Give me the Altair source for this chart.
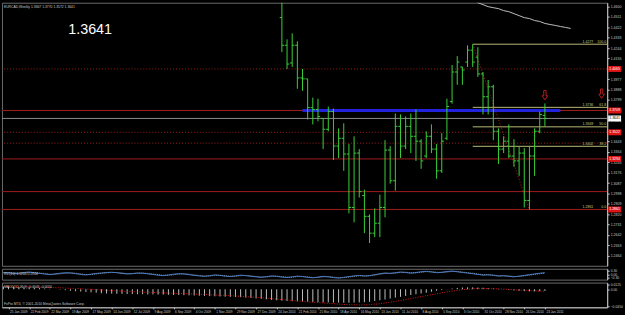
import altair as alt
import pandas as pd

# ---------------- data ----------------
symbol_line = "EURCAD,Weekly  1.3667 1.3770 1.3572 1.3641"
big_price = "1.3641"

opens = [1.4505, 1.4268, 1.4116, 1.4268, 1.3988, 1.3980, 1.3734, 1.3717, 1.3641, 1.3548,
         1.3700, 1.3404, 1.3471, 1.3336, 1.2878, 1.3344, 1.2980, 1.2802, 1.2658, 1.2743,
         1.2878, 1.3370, 1.3107, 1.3573, 1.3404, 1.3573, 1.3488, 1.3446, 1.3319, 1.3488,
         1.3378, 1.3192, 1.3471, 1.3785, 1.4039, 1.4082, 1.4124, 1.4226, 1.4166, 1.4022,
         1.3827, 1.3912, 1.3531, 1.3378, 1.3446, 1.3319, 1.3277, 1.3344, 1.2938, 1.3319,
         1.3531, 1.3667]
highs = [1.4717, 1.4319, 1.4370, 1.4302, 1.4065, 1.3980, 1.3819, 1.3810, 1.3641, 1.3743,
         1.3726, 1.3556, 1.3599, 1.3421, 1.3488, 1.3378, 1.3031, 1.2819, 1.2870, 1.2988,
         1.3455, 1.3404, 1.3683, 1.3675, 1.3658, 1.3683, 1.3717, 1.3463, 1.3531, 1.3590,
         1.3421, 1.3514, 1.3810, 1.4099, 1.4175, 1.4082, 1.4268, 1.4277, 1.4251, 1.4039,
         1.3971, 1.3929, 1.3556, 1.3488, 1.3590, 1.3463, 1.3404, 1.3387, 1.3404, 1.3556,
         1.3700, 1.3770]
lows = [1.4209, 1.4065, 1.4082, 1.3895, 1.3878, 1.3632, 1.3590, 1.3616, 1.3378, 1.3531,
        1.3285, 1.3302, 1.3192, 1.2827, 1.2751, 1.2963, 1.2658, 1.2573, 1.2624, 1.2624,
        1.2794, 1.3082, 1.3022, 1.3302, 1.3378, 1.3344, 1.3277, 1.3209, 1.3302, 1.3344,
        1.3124, 1.3175, 1.3455, 1.3768, 1.3929, 1.3929, 1.4082, 1.4082, 1.3997, 1.3675,
        1.3675, 1.3455, 1.3251, 1.3344, 1.3302, 1.3226, 1.3149, 1.2878, 1.2861, 1.3149,
        1.3514, 1.3572]
closes = [1.4268, 1.4107, 1.4268, 1.3988, 1.3980, 1.3734, 1.3717, 1.3658, 1.3548, 1.3700,
          1.3404, 1.3471, 1.3336, 1.2878, 1.3344, 1.3014, 1.2802, 1.2658, 1.2743, 1.2878,
          1.3370, 1.3107, 1.3573, 1.3404, 1.3573, 1.3488, 1.3446, 1.3277, 1.3488, 1.3378,
          1.3192, 1.3446, 1.3743, 1.4039, 1.4124, 1.4056, 1.4226, 1.4124, 1.4022, 1.3827,
          1.3912, 1.3531, 1.3378, 1.3446, 1.3319, 1.3277, 1.3344, 1.2938, 1.3319, 1.3531,
          1.3675, 1.3641]

# price axis tick labels
price_ticks = [1.4600, 1.4511, 1.4422, 1.4333, 1.4244, 1.4155, 1.4066, 1.3977, 1.3888,
               1.3799, 1.3710, 1.3621, 1.3532, 1.3443, 1.3354, 1.3265, 1.3176, 1.3087,
               1.2998, 1.2909, 1.2820, 1.2731, 1.2642, 1.2553, 1.2464]

# horizontal lines
dotted_levels = [1.4065, 1.3522, 1.3429]
solid_levels = [1.3709, 1.3294, 1.3014, 1.2861]
tag_levels = [1.4065, 1.3709, 1.3522, 1.3294, 1.2861]
bid_price = 1.3641

# blue resistance line
blue_start = "2010-02-28"
blue_end = "2011-02-13"
blue_price = 1.3709

# Fibonacci retracement
fib_start = "2010-10-17"
fib_low_date = "2011-01-02"
fib_high = 1.4277
fib_low = 1.2861
fib_levels = ["100.0", "61.8", "50.0", "38.2", "0.0"]
fib_prices = [1.4277, 1.3736, 1.3569, 1.3402, 1.2861]

# moving average (top right)
ma_dates = ["2010-10-17", "2010-10-24", "2010-10-31", "2010-11-07", "2010-11-14",
            "2010-11-21", "2010-11-28", "2010-12-05", "2010-12-12", "2010-12-19",
            "2010-12-26", "2011-01-02", "2011-01-09", "2011-01-16", "2011-01-23",
            "2011-01-30", "2011-02-06", "2011-02-13", "2011-02-20", "2011-02-27"]
ma_values = [1.4666, 1.4633, 1.4616, 1.4599, 1.4590, 1.4582, 1.4565, 1.4556, 1.4539,
             1.4522, 1.4505, 1.4497, 1.4480, 1.4472, 1.4455, 1.4446, 1.4438, 1.4429,
             1.4421, 1.4412]

# arrows
arrow_dates = ["2011-01-23", "2011-04-10"]
arrow_prices = [1.3840, 1.3853]

# RVI panel
rvi_label = "RVI(10) 0.1200 0.0900"
rvi_main = [0.15, 0.12, 0.05, 0.08, 0.14, 0.18, 0.12, 0.06, 0.02,
            -0.04, 0.02, 0.08, 0.12, 0.10, 0.04, -0.02, -0.06, 0.00, 0.06,
            0.10, 0.14, 0.16, 0.12, 0.06, 0.02, 0.05, 0.10, 0.08, 0.03,
            -0.02, -0.08, -0.12, -0.06, 0.00, 0.04, 0.02, -0.04, -0.10, -0.14,
            -0.18, -0.12, -0.06, -0.10, -0.16, -0.20, -0.14, -0.08, -0.12, -0.18,
            -0.22, -0.26, -0.20, -0.14, -0.18, -0.24, -0.28, -0.22, -0.16, -0.20,
            -0.26, -0.30, -0.24, -0.18, -0.22, -0.28, -0.32, -0.26, -0.20, -0.14,
            -0.10, -0.16, -0.12, -0.04, 0.04, 0.10, 0.06, 0.12, 0.18, 0.14,
            0.08, 0.14, 0.20, 0.24, 0.18, 0.12, 0.16, 0.22, 0.26, 0.20,
            0.14, 0.10, 0.04, -0.02, -0.08, -0.04, -0.10, -0.16, -0.12, -0.18,
            -0.22, -0.16, -0.10, -0.04, 0.02, 0.08, 0.12]
rvi_signal = [0.11, 0.13, 0.10, 0.07, 0.10, 0.14, 0.15, 0.10, 0.05,
              0.00, -0.01, 0.03, 0.08, 0.11, 0.08, 0.02, -0.03, -0.03, 0.02,
              0.07, 0.11, 0.14, 0.14, 0.10, 0.05, 0.04, 0.07, 0.09, 0.06,
              0.01, -0.04, -0.09, -0.09, -0.05, 0.01, 0.03, 0.00, -0.06, -0.11,
              -0.15, -0.15, -0.10, -0.09, -0.13, -0.17, -0.17, -0.12, -0.10, -0.14,
              -0.19, -0.23, -0.23, -0.18, -0.16, -0.20, -0.25, -0.25, -0.20, -0.18,
              -0.22, -0.27, -0.27, -0.22, -0.20, -0.24, -0.29, -0.29, -0.24, -0.18,
              -0.13, -0.13, -0.13, -0.08, 0.00, 0.06, 0.08, 0.09, 0.14, 0.16,
              0.12, 0.11, 0.16, 0.21, 0.21, 0.16, 0.14, 0.18, 0.23, 0.23,
              0.18, 0.12, 0.08, 0.02, -0.04, -0.06, -0.07, -0.12, -0.14, -0.15,
              -0.19, -0.19, -0.14, -0.08, -0.02, 0.04, 0.09]

# MACD panel
macd_label = "MACD(12,26,9) -0.0045 -0.0050"
copyright_label = "FxPro MT4, \u00a9 2001-2010 MetaQuotes Software Corp."
macd_main = [0.0075, 0.0070, 0.0060, 0.0055, 0.0050, 0.0045, 0.0035, 0.0030, 0.0020,
             0.0010, 0.0000, -0.0010, -0.0025, -0.0040, -0.0050, -0.0060, -0.0070, -0.0080, -0.0090,
             -0.0105, -0.0110, -0.0115, -0.0120, -0.0120, -0.0125, -0.0125, -0.0130, -0.0130, -0.0135,
             -0.0135, -0.0140, -0.0140, -0.0145, -0.0150, -0.0150, -0.0155, -0.0160, -0.0165, -0.0170,
             -0.0175, -0.0180, -0.0185, -0.0190, -0.0195, -0.0200, -0.0205, -0.0210, -0.0220, -0.0230,
             -0.0240, -0.0250, -0.0265, -0.0280, -0.0290, -0.0300, -0.0310, -0.0315, -0.0320, -0.0325,
             -0.0330, -0.0335, -0.0340, -0.0345, -0.0345, -0.0350, -0.0350, -0.0355, -0.0355, -0.0350,
             -0.0345, -0.0340, -0.0330, -0.0310, -0.0290, -0.0270, -0.0245, -0.0220, -0.0200, -0.0175,
             -0.0150, -0.0130, -0.0110, -0.0090, -0.0065, -0.0040, -0.0020, 0.0005, 0.0020, 0.0035,
             0.0045, 0.0050, 0.0050, 0.0045, 0.0040, 0.0030, 0.0020, 0.0010, -0.0005, -0.0020,
             -0.0030, -0.0040, -0.0050, -0.0055, -0.0055, -0.0050, -0.0045]
macd_signal = [0.0074, 0.0073, 0.0071, 0.0069, 0.0066, 0.0063, 0.0060, 0.0056, 0.0052,
               0.0048, 0.0043, 0.0038, 0.0032, 0.0026, 0.0020, 0.0013, 0.0006, -0.0001, -0.0009,
               -0.0017, -0.0025, -0.0033, -0.0041, -0.0048, -0.0055, -0.0062, -0.0068, -0.0074, -0.0080,
               -0.0086, -0.0091, -0.0096, -0.0101, -0.0106, -0.0111, -0.0116, -0.0121, -0.0126, -0.0131,
               -0.0137, -0.0143, -0.0149, -0.0156, -0.0163, -0.0170, -0.0178, -0.0186, -0.0195, -0.0204,
               -0.0214, -0.0224, -0.0235, -0.0246, -0.0258, -0.0270, -0.0282, -0.0294, -0.0306, -0.0318,
               -0.0330, -0.0340, -0.0350, -0.0360, -0.0370, -0.0380, -0.0390, -0.0398, -0.0405, -0.0410,
               -0.0412, -0.0410, -0.0403, -0.0392, -0.0378, -0.0360, -0.0340, -0.0318, -0.0295, -0.0270,
               -0.0245, -0.0220, -0.0195, -0.0170, -0.0145, -0.0120, -0.0095, -0.0072, -0.0050, -0.0030,
               -0.0012, 0.0002, 0.0012, 0.0018, 0.0020, 0.0018, 0.0014, 0.0009, 0.0003, -0.0004,
               -0.0012, -0.0020, -0.0028, -0.0035, -0.0041, -0.0046, -0.0050]

# ---------------- frames ----------------
bars = pd.DataFrame({
    "date": pd.date_range("2010-01-31", periods=len(opens), freq="7D"),
    "open": opens, "high": highs, "low": lows, "close": closes})
ind = pd.DataFrame({
    "date": pd.date_range(end="2011-01-23", periods=len(macd_main), freq="7D"),
    "macd": macd_main, "signal": macd_signal, "rvi": rvi_main, "rvis": rvi_signal})
ma = pd.DataFrame({"date": pd.to_datetime(ma_dates), "ma": ma_values})
arrows = pd.DataFrame({"date": pd.to_datetime(arrow_dates), "price": arrow_prices})
dotted = pd.DataFrame({"price": dotted_levels})
solid = pd.DataFrame({"price": solid_levels})
tags = pd.DataFrame({"price": tag_levels, "txt": [f"{v:.4f}" for v in tag_levels]})
bid = pd.DataFrame({"price": [bid_price], "txt": [f"{bid_price:.4f}"]})
blue = pd.DataFrame({"d1": pd.to_datetime([blue_start]), "d2": pd.to_datetime([blue_end]),
                     "price": [blue_price]})
fib = pd.DataFrame({"d1": pd.to_datetime([fib_start] * 4),
                    "d2": pd.to_datetime(["2011-06-01"] * 4),
                    "price": fib_prices[:4]})
fib_txt = pd.DataFrame({"price": fib_prices, "ptxt": [f"{v:.4f}" for v in fib_prices],
                        "lvl": fib_levels})
fib_trend = pd.DataFrame({"date": pd.to_datetime([fib_start, fib_low_date]),
                          "price": [fib_high, fib_low]})

# ---------------- scales ----------------
W = 612
H_MAIN = 266
PX_PER_UNIT = 1180.0
PX_PER_DAY = 5.215 / 7
last = pd.Timestamp("2011-01-23")
t0 = last - pd.Timedelta(days=549 / PX_PER_DAY)
t1 = last + pd.Timedelta(days=(W - 549) / PX_PER_DAY)


def dt(t):
    return alt.DateTime(year=t.year, month=t.month, date=t.day, hours=t.hour, minutes=t.minute)


XS = alt.Scale(domain=[dt(t0), dt(t1)], nice=False)
Y_TOP = 1.46325
YS = alt.Scale(domain=[Y_TOP - H_MAIN / PX_PER_UNIT, Y_TOP], nice=False, zero=False)

FG = "#c8c8c8"
FONT = "Liberation Sans"
RED = "#a01c1c"

price_axis = alt.Axis(orient="right", values=price_ticks, format=".4f", labelFontSize=3.6,
                      labelColor=FG, domainColor=FG, tickColor=FG, tickSize=2, labelPadding=1,
                      grid=False, title=None, labelFont=FONT, labelFlush=False)


def X(field="date"):
    return alt.X(f"{field}:T", scale=XS, axis=None)


def Y(field="price"):
    return alt.Y(f"{field}:Q", scale=YS, axis=price_axis)


base_bars = alt.Chart(bars)
hl = base_bars.mark_rule(color="#3ad03a", strokeWidth=1, clip=True).encode(
    x=X(), y=Y("low"), y2="high:Q")
op = base_bars.mark_rule(color="#3ad03a", strokeWidth=1, xOffset=-2.2, x2Offset=0).encode(
    x=X(), x2="date:T", y=Y("open"))
cl = base_bars.mark_rule(color="#3ad03a", strokeWidth=1, xOffset=0, x2Offset=2.2).encode(
    x=X(), x2="date:T", y=Y("close"))

dot_l = alt.Chart(dotted).mark_rule(color=RED, strokeWidth=1, strokeDash=[1, 2]).encode(y=Y())
sol_l = alt.Chart(solid).mark_rule(color=RED, strokeWidth=1).encode(y=Y())
bid_l = alt.Chart(bid).mark_rule(color="#8c8c8c", strokeWidth=1).encode(y=Y())
blue_l = alt.Chart(blue).mark_rule(color="#2222dd", strokeWidth=3).encode(
    x=X("d1"), x2="d2:T", y=Y())
fib_l = alt.Chart(fib).mark_rule(color="#b8b878", strokeWidth=1, clip=True).encode(
    x=X("d1"), x2="d2:T", y=Y())
fib_tr = alt.Chart(fib_trend).mark_line(color="#b02020", strokeWidth=1, strokeDash=[1, 2]).encode(
    x=X(), y=Y())
fib_p = alt.Chart(fib_txt).mark_text(align="right", baseline="bottom", dy=-0.5, fontSize=3.6,
                                     color="#c8c880", font=FONT).encode(
    x=alt.value(598), y=Y(), text="ptxt:N")
fib_v = alt.Chart(fib_txt).mark_text(align="right", baseline="bottom", dy=-0.5, fontSize=3.6,
                                     color="#c8c880", font=FONT).encode(
    x=alt.value(611), y=Y(), text="lvl:N")
ma_l = alt.Chart(ma).mark_line(color="#bdbdbd", strokeWidth=1, clip=True).encode(
    x=X(), y=Y("ma"))
arrow_shape = "M-0.25,-1 L0.25,-1 L0.25,0.1 L0.6,0.1 L0,1 L-0.6,0.1 L-0.25,0.1 Z"
arr = alt.Chart(arrows).mark_point(shape=arrow_shape, filled=False, color="#ff2a2a",
                                   strokeWidth=1, size=90).encode(x=X(), y=Y())
tag_r = alt.Chart(tags).mark_rule(color="#e01414", strokeWidth=6).encode(
    x=alt.value(613), x2=alt.value(626), y=Y())
tag_t = alt.Chart(tags).mark_text(align="left", baseline="middle", fontSize=3.6, color="#ffffff",
                                  font=FONT).encode(x=alt.value(614), y=Y(), text="txt:N")
bid_r = alt.Chart(bid).mark_rule(color="#ffffff", strokeWidth=6).encode(
    x=alt.value(613), x2=alt.value(626), y=Y())
bid_t = alt.Chart(bid).mark_text(align="left", baseline="middle", fontSize=3.6, color="#000000",
                                 font=FONT).encode(x=alt.value(614), y=Y(), text="txt:N")
title_t = alt.Chart(pd.DataFrame({"t": [symbol_line]})).mark_text(
    align="left", baseline="middle", fontSize=3.4, color=FG, font=FONT).encode(
    x=alt.value(2), y=alt.value(4), text="t:N")
big_t = alt.Chart(pd.DataFrame({"t": [big_price]})).mark_text(
    align="left", baseline="alphabetic", fontSize=14.5, color="#ffffff", font=FONT).encode(
    x=alt.value(67), y=alt.value(31.5), text="t:N")

main = alt.layer(dot_l, sol_l, bid_l, blue_l, fib_l, fib_tr, ma_l, hl, op, cl, fib_p, fib_v,
                 arr, tag_r, tag_t, bid_r, bid_t, title_t, big_t).properties(
    width=W, height=H_MAIN)

# ---------------- RVI panel ----------------
RS = alt.Scale(domain=[-0.45, 0.45], nice=False, zero=False)
rvi_axis = alt.Axis(orient="right", values=[0.3, 0.0, -0.3], format=".2f", labelFontSize=3.4,
                    labelColor=FG, domainColor=FG, tickColor=FG, tickSize=2, labelPadding=1,
                    grid=False, title=None, labelFont=FONT)
rvi_m = alt.Chart(ind).mark_line(color="#4a7cc8", strokeWidth=1).encode(
    x=X(), y=alt.Y("rvi:Q", scale=RS, axis=rvi_axis))
rvi_s = alt.Chart(ind).mark_line(color="#9a9a9a", strokeWidth=1, strokeDash=[1, 1]).encode(
    x=X(), y=alt.Y("rvis:Q", scale=RS, axis=rvi_axis))
rvi_t = alt.Chart(pd.DataFrame({"t": [rvi_label]})).mark_text(
    align="left", baseline="middle", fontSize=3.4, color=FG, font=FONT).encode(
    x=alt.value(2), y=alt.value(5), text="t:N")
rvi = alt.layer(rvi_s, rvi_m, rvi_t).properties(width=W, height=11)

# ---------------- MACD panel ----------------
MS = alt.Scale(domain=[-0.0475, 0.0175], nice=False, zero=False)
xticks = [dt(t) for t in pd.date_range("2009-01-25", "2011-01-23", freq="28D")]
x_axis = alt.Axis(values=xticks, format="%-d %b %Y", labelFontSize=3.2, labelColor=FG,
                  labelAlign="left", labelPadding=0.5, tickSize=1.5, domainColor=FG, tickColor=FG,
                  labelOverlap=False, grid=False, title=None, labelFont=FONT, labelFlush=False,
                  labelOffset=1)
macd_axis = alt.Axis(orient="right", values=[0.0125, 0.0, -0.045],
                     labelExpr="datum.value == 0 ? '0.00' : format(datum.value, '.4f')",
                     labelFontSize=3.4, labelColor=FG, domainColor=FG, tickColor=FG, tickSize=2,
                     labelPadding=1, grid=False, title=None, labelFont=FONT)
macd_b = alt.Chart(ind).mark_rule(color="#c0c0c0", strokeWidth=1).encode(
    x=alt.X("date:T", scale=XS, axis=x_axis),
    y=alt.Y("macd:Q", scale=MS, axis=macd_axis), y2=alt.datum(0))
macd_s = alt.Chart(ind).mark_line(color="#d01818", strokeWidth=1, strokeDash=[1, 1.5]).encode(
    x=alt.X("date:T", scale=XS, axis=x_axis), y=alt.Y("signal:Q", scale=MS, axis=macd_axis))
macd_t = alt.Chart(pd.DataFrame({"t": [macd_label]})).mark_text(
    align="left", baseline="middle", fontSize=3.4, color=FG, font=FONT).encode(
    x=alt.value(2), y=alt.value(4), text="t:N")
copy_t = alt.Chart(pd.DataFrame({"t": [copyright_label]})).mark_text(
    align="left", baseline="middle", fontSize=3.4, color=FG, font=FONT).encode(
    x=alt.value(2), y=alt.value(22), text="t:N")
macd = alt.layer(macd_b, macd_s, macd_t, copy_t).properties(width=W, height=25)

chart = alt.vconcat(main, rvi, macd, spacing=1).properties(
    padding={"left": 0, "top": 0, "right": 0, "bottom": 0},
    background="#000000",
).configure_view(stroke="#6a6a6a", strokeWidth=1)

chart.save("out.html", embed_options={"renderer": "svg", "actions": False})
